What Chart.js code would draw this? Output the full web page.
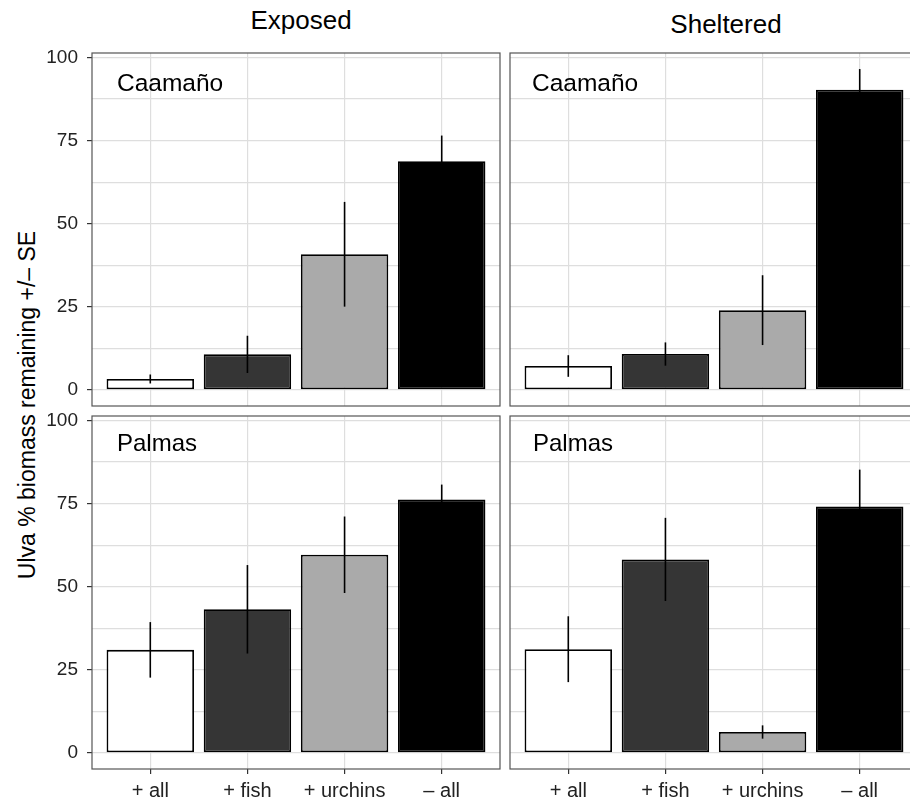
<!DOCTYPE html>
<html>
<head>
<meta charset="utf-8">
<script src="https://cdn.jsdelivr.net/npm/chart.js@4.4.1/dist/chart.umd.min.js"></script>
<style>
  html, body { margin: 0; padding: 0; width: 910px; height: 798px; overflow: hidden; background: #fff; }
  body { position: relative; font-family: "Liberation Sans", Arial, sans-serif; color: #000; }
  canvas { position: absolute; }
  .txt { position: absolute; line-height: 1; white-space: nowrap; }
</style>
</head>
<body>
<div class="txt" style="left:301px; top:7px; font-size:26px; transform:translateX(-50%);">Exposed</div>
<div class="txt" style="left:726px; top:11px; font-size:26px; transform:translateX(-50%);">Sheltered</div>
<div class="txt" style="left:27px; top:405px; font-size:23px; transform:translate(-50%,-50%) rotate(-90deg);">Ulva % biomass remaining +/– SE</div>

<canvas id="expCaa" width="505" height="375" style="left:0; top:40px;"></canvas>
<canvas id="shelCaa" width="425" height="375" style="left:505px; top:40px;"></canvas>
<canvas id="expPal" width="505" height="393" style="left:0; top:405px;"></canvas>
<canvas id="shelPal" width="425" height="393" style="left:505px; top:405px;"></canvas>

<div class="txt" style="left:117px; top:71px; font-size:24.5px;">Caamaño</div>
<div class="txt" style="left:532px; top:71px; font-size:24.5px;">Caamaño</div>
<div class="txt" style="left:117px; top:431px; font-size:24px;">Palmas</div>
<div class="txt" style="left:533px; top:431px; font-size:24px;">Palmas</div>

<script>
// treatments on the x axis
const treatments = ["+ all", "+ fish", "+ urchins", "– all"];
const barFills = ["#ffffff", "#353535", "#aaaaaa", "#000000"];
const yTickLabels = [0, 25, 50, 75, 100];

// % biomass remaining, means and standard errors
const exposedCaamanoMean = [3.3, 10.7, 40.8, 68.8];
const exposedCaamanoSE = [1.35, 5.6, 15.75, 7.7];
const shelteredCaamanoMean = [7.2, 10.8, 24.0, 90.3];
const shelteredCaamanoSE = [3.25, 3.5, 10.5, 6.2];
const exposedPalmasMean = [31.0, 43.2, 59.6, 76.2];
const exposedPalmasSE = [8.35, 13.3, 11.5, 4.5];
const shelteredPalmasMean = [31.2, 58.2, 6.3, 74.1];
const shelteredPalmasSE = [9.9, 12.5, 2.0, 11.1];

const FONT = "'Liberation Sans', Arial, sans-serif";
const GRID = "#dedede";

// shared y range like ggplot: 0 .. max(mean + se), expanded by 5%
const allUpper = [
  ...exposedCaamanoMean.map((v, i) => v + exposedCaamanoSE[i]),
  ...shelteredCaamanoMean.map((v, i) => v + shelteredCaamanoSE[i]),
  ...exposedPalmasMean.map((v, i) => v + exposedPalmasSE[i]),
  ...shelteredPalmasMean.map((v, i) => v + shelteredPalmasSE[i])
];
const yHi = Math.max(...allUpper);
const yMin = -0.05 * yHi;
const yMax = yHi * 1.05;

const errorBarPlugin = {
  id: "errorBars",
  afterDatasetsDraw(chart, args, opts) {
    const { ctx, scales } = chart;
    const ds = chart.data.datasets[0];
    ctx.save();
    ctx.strokeStyle = "#000";
    ctx.lineWidth = 1.6;
    ds.data.forEach((pt, i) => {
      const se = opts.se[i];
      const x = scales.x.getPixelForValue(pt.x);
      ctx.beginPath();
      ctx.moveTo(x, scales.y.getPixelForValue(pt.y - se));
      ctx.lineTo(x, scales.y.getPixelForValue(pt.y + se));
      ctx.stroke();
    });
    ctx.restore();
  }
};

const panelBorderPlugin = {
  id: "panelBorder",
  afterDraw(chart) {
    const { ctx, chartArea: a } = chart;
    ctx.save();
    ctx.strokeStyle = "#555555";
    ctx.lineWidth = 1.2;
    ctx.strokeRect(a.left, a.top, a.right - a.left, a.bottom - a.top);
    ctx.restore();
  }
};

const makePanel = (canvasId, means, ses, showY, showX, padding) => {
  const canvas = document.getElementById(canvasId);
  return new Chart(canvas, {
    type: "bar",
    data: {
      datasets: [{
        data: means.map((v, i) => ({ x: i + 1, y: v })),
        backgroundColor: barFills,
        borderColor: "#000",
        borderWidth: 1.8,
        borderSkipped: false,
        barPercentage: 0.9,
        categoryPercentage: 1
      }]
    },
    options: {
      responsive: false,
      animation: false,
      events: [],
      layout: { padding },
      plugins: {
        legend: { display: false },
        tooltip: { enabled: false },
        errorBars: { se: ses }
      },
      scales: {
        x: {
          type: "linear",
          min: 0.4,
          max: 4.6,
          offset: false,
          grid: { offset: false, color: GRID, lineWidth: 1.2, drawTicks: showX, tickLength: 5, tickColor: "#333", tickWidth: 1.2 },
          border: { display: false },
          ticks: {
            display: showX,
            stepSize: 1,
            includeBounds: false,
            autoSkip: false,
            maxRotation: 0,
            padding: 5,
            color: "#222",
            font: { family: FONT, size: 20 },
            callback: (v) => treatments[v - 1] ?? ""
          },
          afterFit: (s) => {
            s.height = showX ? 29 : 0;
            s.paddingLeft = 0;
            s.paddingRight = 0;
          }
        },
        y: {
          min: yMin,
          max: yMax,
          grid: {
            color: GRID,
            lineWidth: 1.2,
            drawTicks: showY,
            tickLength: 5,
            tickWidth: 1.2,
            tickColor: (c) => (c.tick && yTickLabels.includes(c.tick.value) ? "#333" : "rgba(0,0,0,0)")
          },
          border: { display: false },
          ticks: {
            display: showY,
            stepSize: 12.5,
            includeBounds: false,
            autoSkip: false,
            padding: 9,
            color: "#222",
            font: { family: FONT, size: 19 },
            callback: (v) => (yTickLabels.includes(v) ? String(v) : "")
          },
          afterFit: (s) => {
            s.width = showY ? 92 : 0;
            s.paddingTop = 0;
            s.paddingBottom = 0;
          }
        }
      }
    },
    plugins: [errorBarPlugin, panelBorderPlugin]
  });
};

makePanel("expCaa", exposedCaamanoMean, exposedCaamanoSE, true, false, { left: 0, top: 13, right: 5, bottom: 9 });
makePanel("shelCaa", shelteredCaamanoMean, shelteredCaamanoSE, false, false, { left: 5, top: 13, right: 12, bottom: 9 });
makePanel("expPal", exposedPalmasMean, exposedPalmasSE, true, true, { left: 0, top: 11, right: 5, bottom: 0 });
makePanel("shelPal", shelteredPalmasMean, shelteredPalmasSE, false, true, { left: 5, top: 11, right: 12, bottom: 0 });
</script>
</body>
</html>
